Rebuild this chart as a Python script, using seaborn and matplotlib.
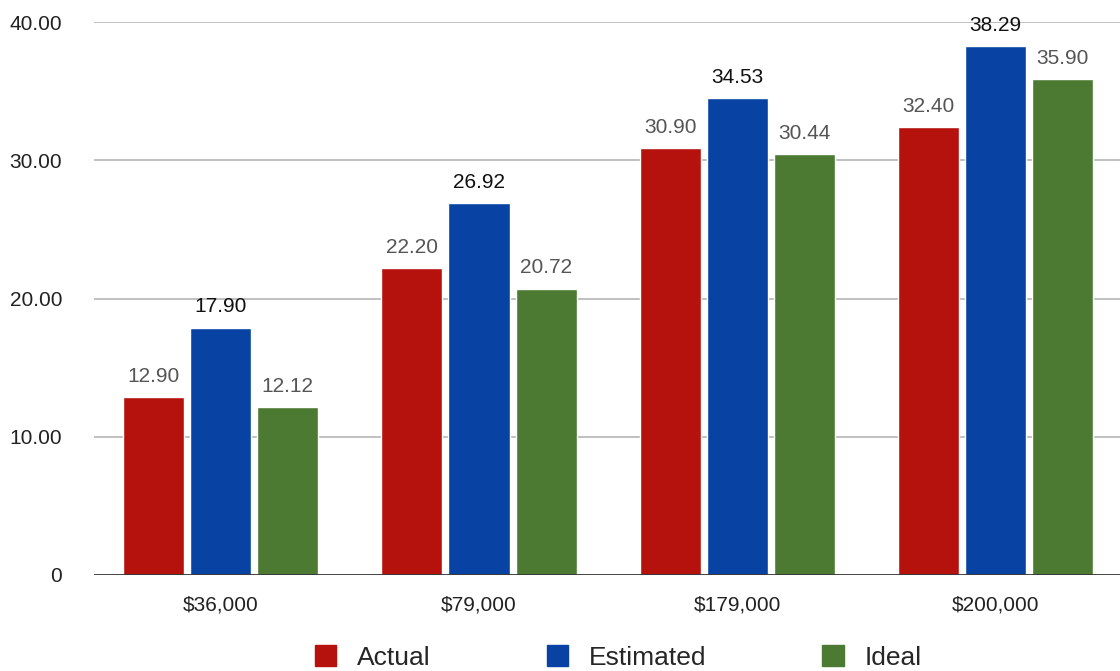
import matplotlib
matplotlib.use("Agg")
import matplotlib.pyplot as plt
from matplotlib.patches import Patch
import seaborn as sns
import pandas as pd

categories = ["$36,000", "$79,000", "$179,000", "$200,000"]
series_names = ["Actual", "Estimated", "Ideal"]
actual = [12.90, 22.20, 30.90, 32.40]
estimated = [17.90, 26.92, 34.53, 38.29]
ideal = [12.12, 20.72, 30.44, 35.90]
y_ticks = [0, 10, 20, 30, 40]
y_tick_labels = ["0", "10.00", "20.00", "30.00", "40.00"]
colors = ["#B5120E", "#0843A3", "#4C7A33"]

rows = []
for name, vals in zip(series_names, [actual, estimated, ideal]):
    for c, v in zip(categories, vals):
        rows.append({"Income": c, "Series": name, "Value": v})
df = pd.DataFrame(rows)

sns.set_style("white")
plt.rcParams["font.family"] = ["Liberation Sans", "DejaVu Sans"]

fig = plt.figure(figsize=(11.2, 6.71), dpi=100)
ax = fig.add_axes([94 / 1120, 1 - 575 / 671, 1 - 94 / 1120 + 0.002, (575 - 22) / 671])

sns.barplot(data=df, x="Income", y="Value", hue="Series", order=categories,
            hue_order=series_names, palette=colors, width=0.78, gap=0.09,
            saturation=1, ax=ax, legend=False, errorbar=None)

ax.set_xlim(-0.49, 3.49)
ax.set_ylim(0, 40)
ax.set_yticks(y_ticks)
ax.set_yticklabels(y_tick_labels)
for y in y_ticks[1:]:
    ax.axhline(y, color="#BBBBBB", lw=1.3, zorder=0)
ax.axhline(0, color="#333333", lw=2, zorder=3)
for s in ax.spines.values():
    s.set_visible(False)
ax.tick_params(axis="both", length=0, labelsize=15, colors="#222222")
ax.tick_params(axis="y", pad=23)
ax.tick_params(axis="x", pad=15)
ax.set_xlabel("")
ax.set_ylabel("")
ax.grid(False)

label_colors = ["#555555", "#111111", "#555555"]
for cont, lc in zip(ax.containers, label_colors):
    ax.bar_label(cont, labels=[f"{b.get_height():.2f}" for b in cont],
                 padding=8, fontsize=15, color=lc)

handles = [Patch(facecolor=c, edgecolor=c) for c in colors]
fig.legend(handles, series_names, loc="center", bbox_to_anchor=(0.552, 0.02),
           ncol=3, frameon=False, fontsize=19, handlelength=0.8, handleheight=0.8,
           handletextpad=0.8, columnspacing=4.4)

fig.savefig("out.png", dpi=100)
